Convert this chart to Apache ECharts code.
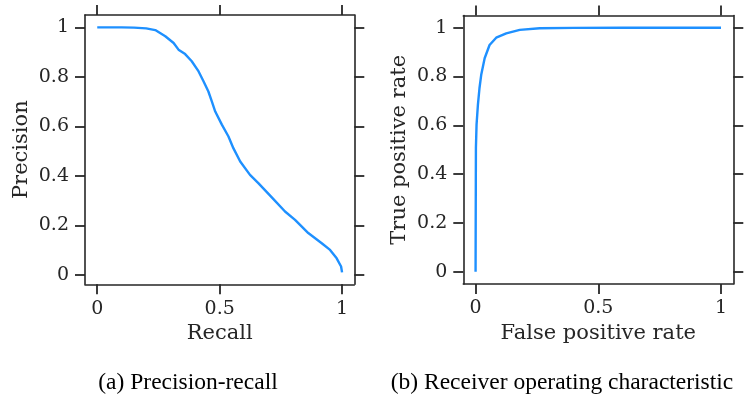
<!DOCTYPE html>
<html>
<head>
<meta charset="utf-8">
<script src="https://cdn.jsdelivr.net/npm/echarts@6/dist/echarts.min.js"></script>
<style>
html,body{margin:0;padding:0;background:#fff;}
#chart{width:745px;height:401px;}
</style>
</head>
<body>
<div id="chart"></div>
<script>
// Precision-recall curve
var prRecall = [0, 0.05, 0.1, 0.15, 0.2, 0.237, 0.278, 0.312, 0.332, 0.359, 0.386, 0.414, 0.434, 0.454, 0.468, 0.482, 0.509, 0.536, 0.556, 0.584, 0.624, 0.658, 0.713, 0.767, 0.808, 0.862, 0.917, 0.951, 0.978, 0.996, 1.0];
var prPrecision = [1, 1, 1, 0.999, 0.996, 0.989, 0.964, 0.937, 0.910, 0.892, 0.863, 0.822, 0.782, 0.741, 0.701, 0.660, 0.607, 0.559, 0.512, 0.458, 0.404, 0.371, 0.313, 0.256, 0.222, 0.169, 0.128, 0.101, 0.067, 0.034, 0.01];
// ROC curve
var rocFpr = [0, 0.0005, 0.001, 0.0014, 0.004, 0.0095, 0.016, 0.023, 0.037, 0.057, 0.084, 0.125, 0.18, 0.261, 0.4, 0.6, 0.8, 1.0];
var rocTpr = [0, 0.2, 0.371, 0.508, 0.603, 0.684, 0.753, 0.807, 0.875, 0.929, 0.959, 0.977, 0.991, 0.998, 0.9995, 1, 1, 1];
// ticks
var xTicks = [0, 0.5, 1];
var yTicks = [0, 0.2, 0.4, 0.6, 0.8, 1];
var xNames = ['Recall', 'False positive rate'];
var yNames = ['Precision', 'True positive rate'];
var captions = ['(a) Precision-recall', '(b) Receiver operating characteristic'];

function zip(a, b) { return a.map(function (v, i) { return [v, b[i]]; }); }

var axisColor = '#262626';
var tickFont = 'DejaVu Serif';
var lineStyle = { color: axisColor, width: 1.6 };
var tickStyle = { color: axisColor, width: 1.8 };

function xAx(grid, pos, name, min, max) {
  var main = pos === 'bottom';
  return {
    type: 'value', gridIndex: grid, position: pos, min: min, max: max,
    name: main ? name : '', nameLocation: 'middle', nameGap: 37,
    nameTextStyle: { fontFamily: tickFont, fontSize: 21, color: axisColor },
    axisLine: { show: true, onZero: false, lineStyle: lineStyle },
    axisTick: { show: true, inside: false, length: 10, lineStyle: tickStyle, customValues: xTicks },
    axisLabel: { show: main, margin: 15, fontFamily: tickFont, fontSize: 19, color: axisColor, customValues: xTicks },
    splitLine: { show: false }
  };
}
function yAx(grid, pos, name, min, max, gap) {
  var main = pos === 'left';
  return {
    type: 'value', gridIndex: grid, position: pos, min: min, max: max,
    name: main ? name : '', nameLocation: 'middle', nameGap: gap,
    nameTextStyle: { fontFamily: tickFont, fontSize: 21, color: axisColor },
    axisLine: { show: true, onZero: false, lineStyle: lineStyle },
    axisTick: { show: true, inside: false, length: 10, lineStyle: tickStyle, customValues: yTicks },
    axisLabel: { show: main, margin: 16, fontFamily: tickFont, fontSize: 19, color: axisColor, customValues: yTicks },
    splitLine: { show: false }
  };
}

var capStyle = { fontFamily: 'Liberation Serif', fontSize: 23.5, fontWeight: 'normal', color: '#000' };

var option = {
  animation: false,
  backgroundColor: '#fff',
  grid: [
    { left: 85, top: 15, width: 269.3, height: 269.3 },
    { left: 463.3, top: 15.5, width: 270, height: 268.5 }
  ],
  xAxis: [
    xAx(0, 'bottom', xNames[0], -0.05, 1.05),
    xAx(0, 'top', '', -0.05, 1.05),
    xAx(1, 'bottom', xNames[1], -0.05, 1.05),
    xAx(1, 'top', '', -0.05, 1.05)
  ],
  yAxis: [
    yAx(0, 'left', yNames[0], -0.038, 1.05, 53),
    yAx(0, 'right', '', -0.038, 1.05, 53),
    yAx(1, 'left', yNames[1], -0.05, 1.05, 53),
    yAx(1, 'right', '', -0.05, 1.05, 53)
  ],
  title: [
    { text: captions[0], left: 188, top: 371, textAlign: 'center', padding: 0, textStyle: capStyle },
    { text: captions[1], left: 562, top: 371, textAlign: 'center', padding: 0, textStyle: capStyle }
  ],
  series: [
    { type: 'line', xAxisIndex: 0, yAxisIndex: 0, data: zip(prRecall, prPrecision),
      showSymbol: false, lineStyle: { color: '#1E90FF', width: 2.4 }, itemStyle: { color: '#1E90FF' } },
    { type: 'line', xAxisIndex: 2, yAxisIndex: 2, data: zip(rocFpr, rocTpr),
      showSymbol: false, lineStyle: { color: '#1E90FF', width: 2.4 }, itemStyle: { color: '#1E90FF' } }
  ]
};
var chart = echarts.init(document.getElementById('chart'), null, { renderer: 'canvas' });
chart.setOption(option);
</script>
</body>
</html>
